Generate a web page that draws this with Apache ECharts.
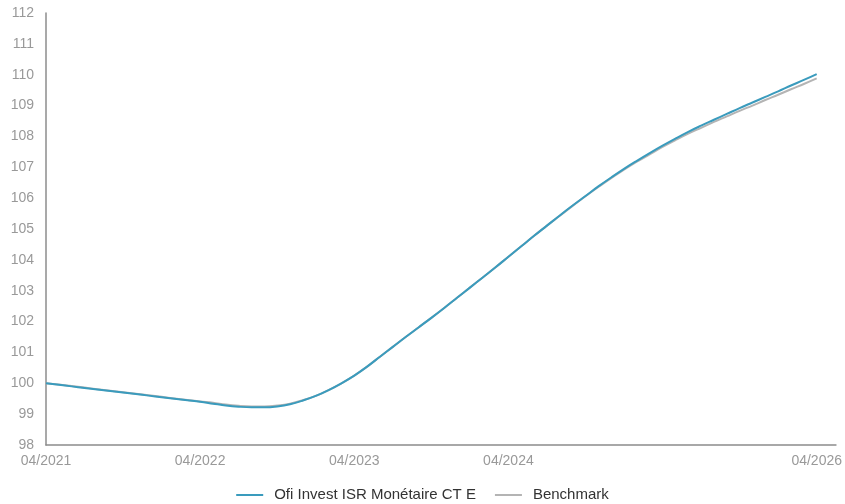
<!DOCTYPE html>
<html>
<head>
<meta charset="utf-8">
<script src="https://cdn.jsdelivr.net/npm/echarts@6/dist/echarts.min.js"></script>
<style>html,body{margin:0;padding:0;background:#fff;}#c{width:845px;height:504px;}</style>
</head>
<body>
<div id="c"></div>
<script>
const months = ['04/2021','05/2021','06/2021','07/2021','08/2021','09/2021','10/2021','11/2021','12/2021',
  '01/2022','02/2022','03/2022','04/2022','05/2022','06/2022','07/2022','08/2022','09/2022','10/2022','11/2022','12/2022',
  '01/2023','02/2023','03/2023','04/2023','05/2023','06/2023','07/2023','08/2023','09/2023','10/2023','11/2023','12/2023',
  '01/2024','02/2024','03/2024','04/2024','05/2024','06/2024','07/2024','08/2024','09/2024','10/2024','11/2024','12/2024',
  '01/2025','02/2025','03/2025','04/2025','05/2025','06/2025','07/2025','08/2025','09/2025','10/2025','11/2025','12/2025',
  '01/2026','02/2026','03/2026','04/2026'];

const fund = [100.00,99.95,99.90,99.85,99.80,99.75,99.70,99.65,99.60,99.55,99.50,99.45,99.40,
  99.34,99.28,99.24,99.22,99.22,99.25,99.32,99.44,99.59,99.78,100.00,100.25,100.54,100.86,101.18,
  101.50,101.81,102.12,102.44,102.77,103.10,103.43,103.76,104.10,104.44,104.78,105.11,105.44,
  105.76,106.07,106.38,106.67,106.95,107.21,107.46,107.70,107.93,108.15,108.35,108.54,108.73,
  108.92,109.10,109.28,109.46,109.65,109.83,110.02];

const benchmark = [100.00,99.96,99.91,99.86,99.81,99.76,99.71,99.66,99.61,99.56,99.51,99.46,99.41,
  99.37,99.31,99.27,99.25,99.25,99.28,99.34,99.45,99.59,99.78,100.00,100.25,100.54,100.86,101.18,
  101.50,101.81,102.12,102.44,102.77,103.10,103.43,103.76,104.10,104.44,104.78,105.11,105.43,
  105.75,106.06,106.36,106.65,106.92,107.18,107.42,107.66,107.88,108.09,108.28,108.47,108.65,
  108.83,109.00,109.18,109.35,109.53,109.70,109.88];

const tickMonths = [0, 12, 24, 36, 60];
const tickLabels = ['04/2021', '04/2022', '04/2023', '04/2024', '04/2026'];
const yTicks = [98, 112, 1];

const seriesNames = ['Ofi Invest ISR Monétaire CT E', 'Benchmark'];
const colors = ['#3a9bbd', '#b4b4b4'];

const chart = echarts.init(document.getElementById('c'), null, {renderer: 'canvas'});
const font = "'Liberation Sans', Arial, sans-serif";

chart.setOption({
  animation: false,
  backgroundColor: '#fff',
  grid: {left: 46, right: 8, top: 13, bottom: 59, containLabel: false},
  legend: {
    data: [
      {name: seriesNames[0], itemStyle: {color: colors[0]}},
      {name: seriesNames[1], itemStyle: {color: colors[1]}}
    ],
    left: 'center',
    top: 482,
    icon: 'rect',
    itemWidth: 27,
    itemHeight: 2,
    itemGap: 19,
    textStyle: {color: '#333', fontSize: 15, fontFamily: font, lineHeight: 16, padding: [0, 0, 0, 6]}
  },
  xAxis: {
    type: 'value',
    min: 0,
    max: 61.5,
    interval: 12,
    axisLine: {show: true, lineStyle: {color: '#8c8c8c', width: 1.5}},
    axisTick: {show: false},
    splitLine: {show: false},
    axisLabel: {
      color: '#999',
      fontSize: 14,
      fontFamily: font,
      margin: 9,
      showMaxLabel: true,
      formatter: function (v) {
        const i = tickMonths.indexOf(Math.round(v * 1000) / 1000);
        return i >= 0 ? tickLabels[i] : '';
      }
    }
  },
  yAxis: {
    type: 'value',
    min: yTicks[0],
    max: yTicks[1],
    interval: yTicks[2],
    axisLine: {show: true, lineStyle: {color: '#8c8c8c', width: 1.5}},
    axisTick: {show: false},
    splitLine: {show: false},
    axisLabel: {color: '#999', fontSize: 14, fontFamily: font, margin: 12}
  },
  series: [
    {
      name: seriesNames[1],
      type: 'line',
      data: benchmark.map((v, i) => [i, v]),
      showSymbol: false,
      symbol: 'none',
      smooth: 0.4,
      lineStyle: {color: colors[1], width: 2},
      itemStyle: {color: colors[1]},
      z: 2
    },
    {
      name: seriesNames[0],
      type: 'line',
      data: fund.map((v, i) => [i, v]),
      showSymbol: false,
      symbol: 'none',
      smooth: 0.4,
      lineStyle: {color: colors[0], width: 2},
      itemStyle: {color: colors[0]},
      z: 3
    }
  ]
});
</script>
</body>
</html>
